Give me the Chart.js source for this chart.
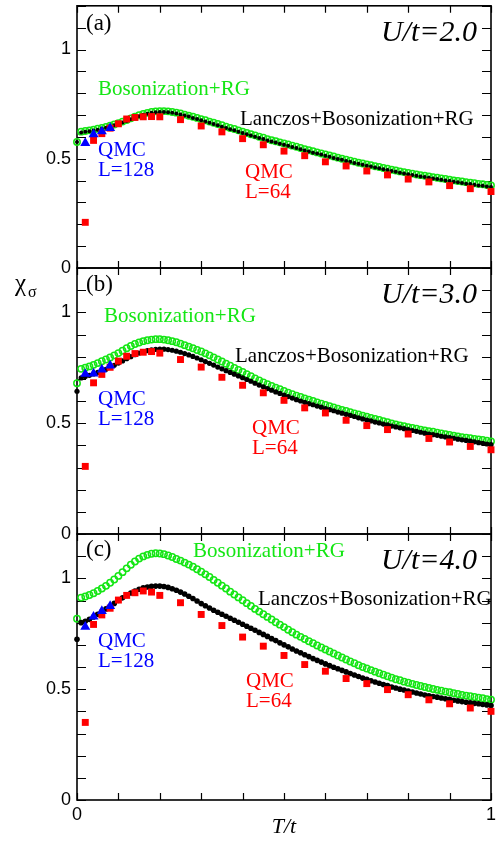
<!DOCTYPE html>
<html>
<head>
<meta charset="utf-8">
<script src="https://cdn.jsdelivr.net/npm/chart.js@4.4.1/dist/chart.umd.min.js"></script>
<style>
  html, body { margin: 0; padding: 0; background: #fff; }
  #fig { position: relative; width: 498px; height: 842px; overflow: hidden; background: #fff; }
  #fig canvas { position: absolute; left: 0; }
</style>
</head>
<body>
<div id="fig">
  <canvas id="panelA" width="498" height="300" style="top:0px"></canvas>
  <canvas id="panelB" width="498" height="320" style="top:250px"></canvas>
  <canvas id="panelC" width="498" height="326" style="top:516px"></canvas>
</div>
<script>
// T/t grid of the Lanczos+Bosonization+RG and Bosonization+RG curves
const tGrid = [0,
  0.01, 0.02, 0.03, 0.04, 0.05, 0.06, 0.07, 0.08, 0.09, 0.10,
  0.11, 0.12, 0.13, 0.14, 0.15, 0.16, 0.17, 0.18, 0.19, 0.20,
  0.21, 0.22, 0.23, 0.24, 0.25, 0.26, 0.27, 0.28, 0.29, 0.30,
  0.31, 0.32, 0.33, 0.34, 0.35, 0.36, 0.37, 0.38, 0.39, 0.40,
  0.41, 0.42, 0.43, 0.44, 0.45, 0.46, 0.47, 0.48, 0.49, 0.50,
  0.51, 0.52, 0.53, 0.54, 0.55, 0.56, 0.57, 0.58, 0.59, 0.60,
  0.61, 0.62, 0.63, 0.64, 0.65, 0.66, 0.67, 0.68, 0.69, 0.70,
  0.71, 0.72, 0.73, 0.74, 0.75, 0.76, 0.77, 0.78, 0.79, 0.80,
  0.81, 0.82, 0.83, 0.84, 0.85, 0.86, 0.87, 0.88, 0.89, 0.90,
  0.91, 0.92, 0.93, 0.94, 0.95, 0.96, 0.97, 0.98, 0.99, 1.00];

// U/t = 2.0
const bosonA = [0.577,
  0.624, 0.627, 0.630, 0.633, 0.637, 0.641, 0.646, 0.651, 0.657, 0.663,
  0.670, 0.677, 0.685, 0.692, 0.699, 0.705, 0.710, 0.714, 0.717, 0.718,
  0.718, 0.717, 0.714, 0.711, 0.707, 0.702, 0.697, 0.692, 0.687, 0.681,
  0.676, 0.670, 0.665, 0.659, 0.653, 0.647, 0.641, 0.636, 0.630, 0.624,
  0.618, 0.612, 0.607, 0.601, 0.596, 0.590, 0.585, 0.580, 0.575, 0.570,
  0.565, 0.560, 0.555, 0.549, 0.544, 0.539, 0.534, 0.529, 0.524, 0.520,
  0.515, 0.510, 0.505, 0.500, 0.496, 0.491, 0.487, 0.482, 0.478, 0.474,
  0.470, 0.466, 0.462, 0.458, 0.454, 0.450, 0.446, 0.442, 0.439, 0.435,
  0.432, 0.428, 0.425, 0.422, 0.419, 0.416, 0.413, 0.410, 0.407, 0.404,
  0.401, 0.398, 0.396, 0.393, 0.390, 0.388, 0.385, 0.383, 0.380, 0.378];
const lanczosA = [0.577,
  0.620, 0.623, 0.626, 0.629, 0.633, 0.637, 0.642, 0.647, 0.653, 0.659,
  0.666, 0.673, 0.681, 0.688, 0.695, 0.701, 0.706, 0.710, 0.713, 0.714,
  0.714, 0.713, 0.710, 0.707, 0.703, 0.698, 0.693, 0.687, 0.682, 0.676,
  0.670, 0.665, 0.659, 0.653, 0.647, 0.641, 0.635, 0.630, 0.624, 0.618,
  0.612, 0.606, 0.601, 0.595, 0.590, 0.584, 0.579, 0.574, 0.569, 0.564,
  0.559, 0.554, 0.549, 0.544, 0.538, 0.533, 0.528, 0.524, 0.519, 0.514,
  0.509, 0.504, 0.499, 0.495, 0.490, 0.486, 0.481, 0.477, 0.472, 0.468,
  0.464, 0.460, 0.456, 0.452, 0.448, 0.444, 0.440, 0.436, 0.433, 0.429,
  0.426, 0.422, 0.419, 0.416, 0.413, 0.410, 0.407, 0.404, 0.401, 0.398,
  0.395, 0.392, 0.389, 0.386, 0.384, 0.381, 0.378, 0.376, 0.373, 0.371];

// U/t = 3.0
const bosonB = [0.680,
  0.745, 0.750, 0.756, 0.763, 0.771, 0.779, 0.787, 0.796, 0.806, 0.816,
  0.827, 0.838, 0.848, 0.857, 0.864, 0.870, 0.874, 0.877, 0.879, 0.879,
  0.877, 0.874, 0.870, 0.865, 0.859, 0.852, 0.845, 0.838, 0.830, 0.823,
  0.815, 0.806, 0.797, 0.787, 0.778, 0.768, 0.759, 0.749, 0.740, 0.731,
  0.721, 0.712, 0.702, 0.693, 0.684, 0.676, 0.668, 0.660, 0.653, 0.645,
  0.638, 0.631, 0.624, 0.618, 0.612, 0.606, 0.600, 0.594, 0.588, 0.582,
  0.576, 0.571, 0.565, 0.560, 0.555, 0.550, 0.544, 0.539, 0.534, 0.529,
  0.524, 0.519, 0.514, 0.509, 0.504, 0.499, 0.494, 0.490, 0.486, 0.482,
  0.478, 0.475, 0.471, 0.467, 0.464, 0.461, 0.457, 0.454, 0.450, 0.447,
  0.444, 0.440, 0.437, 0.434, 0.432, 0.429, 0.426, 0.424, 0.421, 0.418];
const lanczosB = [0.644,
  0.704, 0.710, 0.716, 0.722, 0.729, 0.736, 0.743, 0.752, 0.761, 0.771,
  0.781, 0.791, 0.800, 0.809, 0.816, 0.822, 0.827, 0.831, 0.833, 0.834,
  0.834, 0.832, 0.829, 0.825, 0.820, 0.814, 0.808, 0.801, 0.794, 0.786,
  0.778, 0.770, 0.762, 0.753, 0.745, 0.737, 0.729, 0.721, 0.713, 0.705,
  0.697, 0.689, 0.680, 0.672, 0.664, 0.656, 0.649, 0.641, 0.634, 0.627,
  0.620, 0.613, 0.606, 0.600, 0.594, 0.588, 0.583, 0.577, 0.572, 0.566,
  0.561, 0.556, 0.550, 0.545, 0.540, 0.535, 0.530, 0.524, 0.519, 0.514,
  0.510, 0.505, 0.501, 0.496, 0.492, 0.487, 0.483, 0.479, 0.475, 0.471,
  0.467, 0.463, 0.459, 0.455, 0.451, 0.448, 0.445, 0.441, 0.438, 0.435,
  0.432, 0.428, 0.425, 0.422, 0.419, 0.416, 0.412, 0.409, 0.406, 0.403];

// U/t = 4.0
const bosonC = [0.818,
  0.913, 0.918, 0.925, 0.933, 0.943, 0.954, 0.966, 0.980, 0.995, 1.011,
  1.028, 1.045, 1.061, 1.076, 1.089, 1.099, 1.106, 1.111, 1.113, 1.112,
  1.109, 1.103, 1.096, 1.087, 1.080, 1.071, 1.062, 1.052, 1.041, 1.030,
  1.018, 1.006, 0.993, 0.980, 0.967, 0.954, 0.940, 0.927, 0.914, 0.901,
  0.888, 0.875, 0.862, 0.850, 0.838, 0.826, 0.814, 0.802, 0.791, 0.780,
  0.768, 0.757, 0.746, 0.736, 0.726, 0.716, 0.707, 0.697, 0.688, 0.679,
  0.670, 0.661, 0.652, 0.643, 0.634, 0.625, 0.617, 0.608, 0.600, 0.593,
  0.586, 0.579, 0.572, 0.565, 0.558, 0.552, 0.545, 0.540, 0.534, 0.529,
  0.524, 0.519, 0.514, 0.510, 0.505, 0.501, 0.497, 0.493, 0.489, 0.486,
  0.482, 0.478, 0.474, 0.471, 0.468, 0.465, 0.462, 0.459, 0.455, 0.452];
const lanczosC = [0.725,
  0.800, 0.806, 0.815, 0.826, 0.838, 0.850, 0.862, 0.874, 0.887, 0.900,
  0.912, 0.924, 0.934, 0.943, 0.951, 0.957, 0.961, 0.964, 0.965, 0.965,
  0.963, 0.959, 0.953, 0.946, 0.938, 0.929, 0.919, 0.909, 0.898, 0.886,
  0.876, 0.866, 0.856, 0.847, 0.838, 0.829, 0.820, 0.811, 0.802, 0.793,
  0.784, 0.775, 0.766, 0.756, 0.747, 0.738, 0.728, 0.719, 0.709, 0.700,
  0.691, 0.681, 0.672, 0.664, 0.655, 0.647, 0.638, 0.630, 0.622, 0.614,
  0.606, 0.599, 0.592, 0.585, 0.578, 0.571, 0.564, 0.557, 0.550, 0.544,
  0.538, 0.532, 0.527, 0.521, 0.516, 0.510, 0.505, 0.500, 0.496, 0.491,
  0.487, 0.483, 0.478, 0.474, 0.470, 0.467, 0.464, 0.460, 0.457, 0.454,
  0.450, 0.447, 0.444, 0.441, 0.439, 0.436, 0.434, 0.431, 0.429, 0.426];

// QMC, L=64
const qmc64T = [0.02, 0.04, 0.06, 0.08, 0.10, 0.12, 0.14, 0.16, 0.18, 0.20,
  0.25, 0.30, 0.35, 0.40, 0.45, 0.50, 0.55, 0.60, 0.65, 0.70, 0.75, 0.80, 0.85, 0.90, 0.95, 1.00];
const qmc64A = [0.209, 0.584, 0.615, 0.640, 0.660, 0.682, 0.689, 0.692, 0.693, 0.692,
  0.679, 0.650, 0.623, 0.592, 0.564, 0.535, 0.514, 0.486, 0.467, 0.444, 0.426, 0.407, 0.394, 0.377, 0.363, 0.350];
const qmc64B = [0.305, 0.682, 0.720, 0.752, 0.780, 0.802, 0.814, 0.820, 0.823, 0.816,
  0.787, 0.753, 0.707, 0.671, 0.637, 0.603, 0.569, 0.546, 0.513, 0.489, 0.471, 0.451, 0.431, 0.415, 0.395, 0.380];
const qmc64C = [0.350, 0.792, 0.835, 0.865, 0.902, 0.923, 0.935, 0.943, 0.938, 0.923,
  0.890, 0.837, 0.787, 0.735, 0.694, 0.652, 0.611, 0.581, 0.548, 0.525, 0.498, 0.475, 0.452, 0.434, 0.415, 0.400];

// QMC, L=128
const qmc128T = [0.02, 0.04, 0.06, 0.08];
const qmc128A = [0.572, 0.612, 0.625, 0.640];
const qmc128B = [0.722, 0.724, 0.742, 0.760];
const qmc128C = [0.781, 0.827, 0.852, 0.875];

const yTickLabels = [0, 0.5, 1];
const xTickLabels = [0, 1];
const panelTags = ['(a)', '(b)', '(c)'];
const uLabels = ['U/t=2.0', 'U/t=3.0', 'U/t=4.0'];

const GREEN = '#14e614';
const SERIF = '"Liberation Serif", "Times New Roman", serif';
const SANS = '"Liberation Sans", Arial, sans-serif';

const toPoints = (xs, ys) => xs.map((x, i) => ({ x, y: ys[i] }));
const pickLabel = (list, v) => {
  const hit = list.find((k) => Math.abs(k - v) < 1e-6);
  return hit === undefined ? '' : String(hit);
};

// frame + inward ticks under the data, text on top
const panelDeco = {
  id: 'panelDeco',
  beforeDatasetsDraw(chart) {
    const { ctx, chartArea: a, scales: { x, y } } = chart;
    ctx.save();
    ctx.strokeStyle = '#000';
    ctx.lineWidth = 1.2;
    ctx.beginPath();
    y.ticks.forEach((t) => {
      const py = Math.round(y.getPixelForValue(t.value)) + 0.5;
      ctx.moveTo(a.left, py); ctx.lineTo(a.left + 9, py);
      ctx.moveTo(a.right, py); ctx.lineTo(a.right - 9, py);
    });
    x.ticks.forEach((t) => {
      const px = Math.round(x.getPixelForValue(t.value)) + 0.5;
      ctx.moveTo(px, a.top); ctx.lineTo(px, a.top + 7);
      ctx.moveTo(px, a.bottom); ctx.lineTo(px, a.bottom - 7);
    });
    ctx.stroke();
    ctx.lineWidth = 1.6;
    ctx.strokeRect(a.left, a.top, a.right - a.left, a.bottom - a.top);
    ctx.restore();
  },
  afterDatasetsDraw(chart, args, opts) {
    const { ctx, chartArea: a } = chart;
    ctx.save();
    ctx.textBaseline = 'alphabetic';
    (opts.texts || []).forEach((t) => {
      ctx.font = t.font;
      ctx.fillStyle = t.color || '#000';
      ctx.textAlign = t.align || 'left';
      ctx.fillText(t.text, a.left + t.dx, a.top + t.dy);
    });
    ctx.restore();
  },
};

const buildPanel = (id, p) => new Chart(document.getElementById(id), {
  type: 'scatter',
  data: {
    datasets: [
      {
        data: toPoints(qmc128T, p.qmc128),
        pointStyle: 'triangle', pointRadius: 5.8,
        backgroundColor: '#0000ff', borderColor: '#0000ff', borderWidth: 0, clip: false,
      },
      {
        data: toPoints(qmc64T, p.qmc64),
        pointStyle: 'rect', pointRadius: 4.9,
        backgroundColor: '#ff0000', borderColor: '#ff0000', borderWidth: 0, clip: false,
      },
      {
        data: toPoints(tGrid, p.lanczos),
        pointStyle: 'circle', pointRadius: p.dot,
        backgroundColor: '#000', borderColor: '#000', borderWidth: 0, clip: false,
      },
      {
        data: toPoints(tGrid, p.boson),
        pointStyle: 'circle', pointRadius: 3.2,
        backgroundColor: 'rgba(0,0,0,0)', borderColor: GREEN, borderWidth: 1.5, clip: false,
      },
    ],
  },
  options: {
    responsive: false,
    animation: false,
    devicePixelRatio: 1,
    events: [],
    layout: { padding: { top: p.padTop, right: 7, bottom: 0, left: 0 } },
    plugins: {
      legend: { display: false },
      tooltip: { enabled: false },
      panelDeco: { texts: p.texts },
    },
    scales: {
      x: {
        type: 'linear', min: 0, max: 1,
        grid: { display: false, drawTicks: false },
        border: { display: false },
        ticks: {
          display: p.showX, stepSize: 0.1, autoSkip: false, maxRotation: 0, padding: 4,
          color: '#000', font: { family: SANS, size: 18 },
          callback: (v) => pickLabel(xTickLabels, v),
        },
        title: {
          display: p.showX, text: 'T/t', color: '#000',
          font: { family: SERIF, style: 'italic', size: 22 },
          padding: { top: 0, bottom: 2 },
        },
        afterFit: (s) => { s.height = p.xHeight; s.paddingLeft = 0; s.paddingRight = 0; },
      },
      y: {
        type: 'linear', min: 0, max: 1.2,
        grid: { display: false, drawTicks: false },
        border: { display: false },
        ticks: {
          stepSize: 0.1, autoSkip: false, padding: 6,
          color: '#000', font: { family: SANS, size: 18 },
          callback: (v) => pickLabel(yTickLabels, v),
        },
        afterFit: (s) => { s.width = 77; s.paddingTop = 0; s.paddingBottom = 0; },
      },
    },
  },
  plugins: [panelDeco],
});

const label = (text, dx, dy, font, color, align) => ({ text, dx, dy, font, color, align });
const tagFont = `23px ${SERIF}`;
const uFont = `italic 30px ${SERIF}`;
const txtFont = `21px ${SERIF}`;

buildPanel('panelA', {
  boson: bosonA, lanczos: lanczosA, qmc64: qmc64A, qmc128: qmc128A,
  padTop: 2, xHeight: 32, showX: false, dot: 2.0,
  texts: [
    label(panelTags[0], 9, 24, tagFont),
    label(uLabels[0], 400, 35, uFont, '#000', 'right'),
    label('Bosonization+RG', 21, 89, txtFont, GREEN),
    label('Lanczos+Bosonization+RG', 163, 119, txtFont),
    label('QMC', 21, 150, txtFont, '#0000ff'),
    label('L=128', 21, 170, txtFont, '#0000ff'),
    label('QMC', 168, 172, txtFont, '#ff0000'),
    label('L=64', 168, 192, txtFont, '#ff0000'),
  ],
});

buildPanel('panelB', {
  boson: bosonB, lanczos: lanczosB, qmc64: qmc64B, qmc128: qmc128B,
  padTop: 18, xHeight: 36, showX: false, dot: 2.6,
  texts: [
    label('χ', -62, 23, `25px ${SERIF}`),
    label('σ', -49, 29, `16px ${SERIF}`),
    label(panelTags[1], 9, 23, tagFont),
    label(uLabels[1], 400, 35, uFont, '#000', 'right'),
    label('Bosonization+RG', 27, 54, txtFont, GREEN),
    label('Lanczos+Bosonization+RG', 158, 94, txtFont),
    label('QMC', 21, 137, txtFont, '#0000ff'),
    label('L=128', 21, 157, txtFont, '#0000ff'),
    label('QMC', 175, 166, txtFont, '#ff0000'),
    label('L=64', 175, 186, txtFont, '#ff0000'),
  ],
});

buildPanel('panelC', {
  boson: bosonC, lanczos: lanczosC, qmc64: qmc64C, qmc128: qmc128C,
  padTop: 18, xHeight: 42, showX: true, dot: 2.8,
  texts: [
    label(panelTags[2], 9, 22, tagFont),
    label(uLabels[2], 400, 35, uFont, '#000', 'right'),
    label('Bosonization+RG', 116, 23, txtFont, GREEN),
    label('Lanczos+Bosonization+RG', 181, 71, txtFont),
    label('QMC', 21, 113, txtFont, '#0000ff'),
    label('L=128', 21, 133, txtFont, '#0000ff'),
    label('QMC', 169, 153, txtFont, '#ff0000'),
    label('L=64', 169, 173, txtFont, '#ff0000'),
  ],
});
</script>
</body>
</html>
